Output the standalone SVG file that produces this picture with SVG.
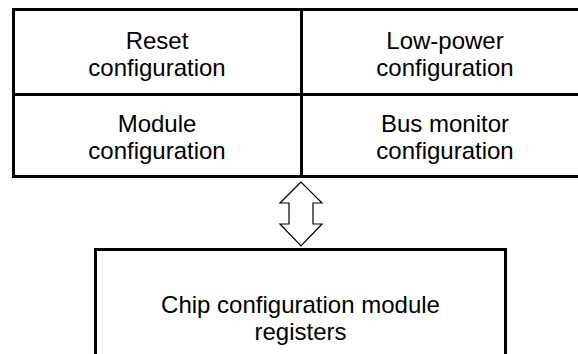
<svg xmlns="http://www.w3.org/2000/svg" width="578" height="354" viewBox="0 0 578 354">
<style>
.box{fill:#fff;stroke:#000;stroke-width:3}
.div{stroke:#000;stroke-width:3;fill:none}
.lbl{font-family:"Liberation Sans",Arial,sans-serif;font-size:24px;fill:#000;text-anchor:middle}
.arrow{fill:#fff;stroke:#000;stroke-width:1.2;stroke-linejoin:miter}
</style>
<rect width="578" height="354" fill="#fff"/>
<g id="config-block">
<rect class="box" x="13.5" y="9.5" width="580" height="167"/>
<line class="div" x1="13.5" y1="94.5" x2="593.5" y2="94.5"/>
<line class="div" x1="301.5" y1="9.5" x2="301.5" y2="176.5"/>
</g>
<g id="reset">
<text class="lbl" x="157" y="49">Reset</text>
<text class="lbl" x="157" y="76">configuration</text>
</g>
<g id="lowpower">
<text class="lbl" x="445" y="49">Low-power</text>
<text class="lbl" x="445" y="76">configuration</text>
</g>
<g id="module">
<text class="lbl" x="157" y="132">Module</text>
<text class="lbl" x="157" y="159">configuration</text>
</g>
<g id="busmonitor">
<text class="lbl" x="445" y="132">Bus monitor</text>
<text class="lbl" x="445" y="159">configuration</text>
</g>
<g id="registers">
<rect class="box" x="95.5" y="249.5" width="410" height="120"/>
<text class="lbl" x="300.5" y="313">Chip configuration module</text>
<text class="lbl" x="300.5" y="340">registers</text>
</g>
<g id="connectors">
<polygon class="arrow" points="301,182 280,203 289,203 289,224 280,224 301,246 322,224 313,224 313,203 322,203"/>
</g>
</svg>
